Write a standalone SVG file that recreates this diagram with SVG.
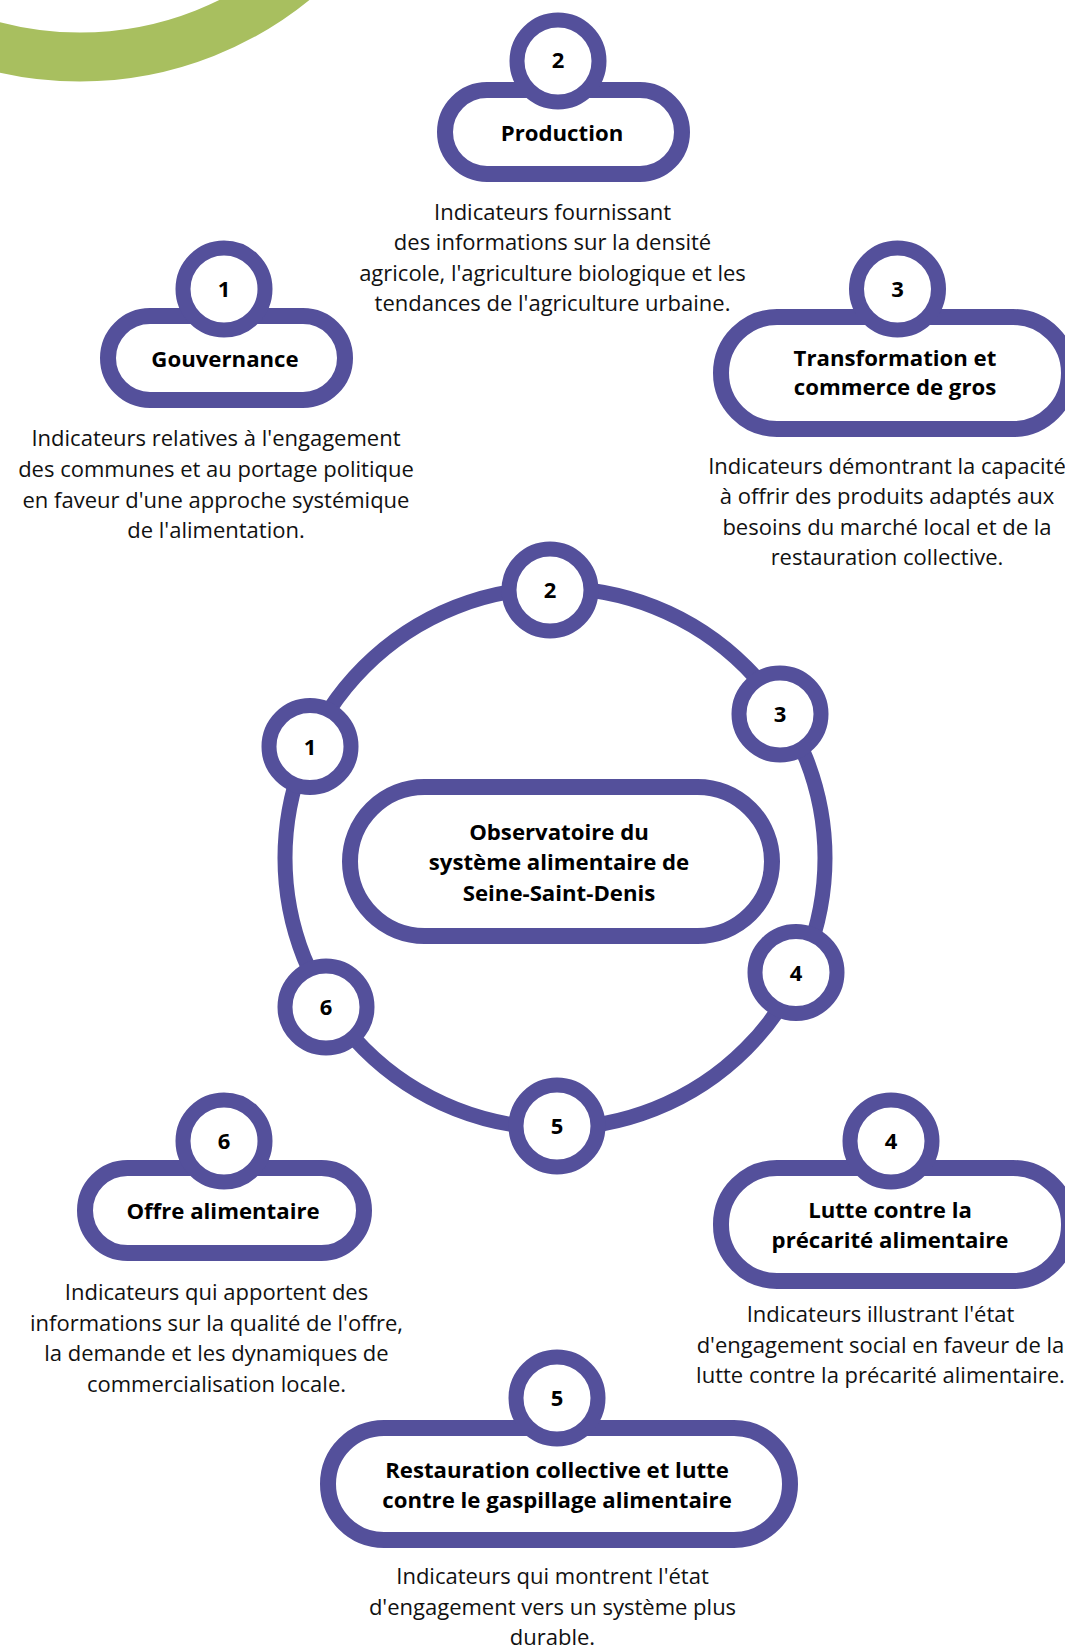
<svg xmlns="http://www.w3.org/2000/svg" width="1065" height="1648" viewBox="0 0 1065 1648">
<style>
.pill{fill:#fff;stroke:#54509B;stroke-width:16}
.dot{fill:#fff;stroke:#54509B;stroke-width:15}
.ring{fill:none;stroke:#54509B;stroke-width:15}
.num{font-family:"Open Sans",sans-serif;font-weight:700;font-size:22px;fill:#000;text-anchor:middle}
.ttl{font-family:"Open Sans",sans-serif;font-weight:700;font-size:22.2px;fill:#000;text-anchor:middle}
.dsc{font-family:"Open Sans",sans-serif;font-weight:400;font-size:22px;fill:#111;text-anchor:middle}
</style>
<rect width="1065" height="1648" fill="#fff"/>
<circle cx="80" cy="-282" r="339" fill="none" stroke="#A8BF5F" stroke-width="49"/>
<g id="connectors">
<circle class="ring" cx="555" cy="858" r="270"/>
</g>
<g id="center">
<rect class="pill" x="350" y="787" width="422" height="149" rx="74.5"/>
<text class="ttl" x="559" y="840">Observatoire du</text>
<text class="ttl" x="559" y="870">système alimentaire de</text>
<text class="ttl" x="559" y="901">Seine-Saint-Denis</text>
</g>
<g id="ring-1"><circle class="dot" cx="310" cy="746.5" r="41"/><text class="num" x="310" y="754.5">1</text></g>
<g id="ring-2"><circle class="dot" cx="550" cy="590" r="41"/><text class="num" x="550" y="598">2</text></g>
<g id="ring-3"><circle class="dot" cx="780" cy="714" r="41"/><text class="num" x="780" y="722">3</text></g>
<g id="ring-4"><circle class="dot" cx="796" cy="972.5" r="41"/><text class="num" x="796" y="980.5">4</text></g>
<g id="ring-5"><circle class="dot" cx="557" cy="1126" r="41"/><text class="num" x="557" y="1134">5</text></g>
<g id="ring-6"><circle class="dot" cx="326" cy="1007" r="41"/><text class="num" x="326" y="1015">6</text></g>

<g id="node-1">
<rect class="pill" x="108" y="316" width="237" height="84" rx="42"/>
<circle class="dot" cx="224" cy="289" r="41"/>
<text class="num" x="224" y="297">1</text>
<text class="ttl" x="225" y="367">Gouvernance</text>
<text class="dsc" x="216" y="446">Indicateurs relatives à l'engagement</text>
<text class="dsc" x="216" y="477">des communes et au portage politique</text>
<text class="dsc" x="216" y="508">en faveur d'une approche systémique</text>
<text class="dsc" x="216" y="538">de l'alimentation.</text>
</g>
<g id="node-2">
<rect class="pill" x="445" y="90" width="237" height="84" rx="42"/>
<circle class="dot" cx="558" cy="61" r="41"/>
<text class="num" x="558" y="68">2</text>
<text class="ttl" x="562" y="141">Production</text>
<text class="dsc" x="552.5" y="220">Indicateurs fournissant</text>
<text class="dsc" x="552.5" y="250">des informations sur la densité</text>
<text class="dsc" x="552.5" y="281">agricole, l'agriculture biologique et les</text>
<text class="dsc" x="552.5" y="311">tendances de l'agriculture urbaine.</text>
</g>
<g id="node-3">
<rect class="pill" x="721" y="317" width="348" height="112" rx="56"/>
<circle class="dot" cx="897.5" cy="289" r="41"/>
<text class="num" x="897.5" y="297">3</text>
<text class="ttl" x="895" y="366">Transformation et</text>
<text class="ttl" x="895" y="395">commerce de gros</text>
<text class="dsc" x="887" y="474">Indicateurs démontrant la capacité</text>
<text class="dsc" x="887" y="504">à offrir des produits adaptés aux</text>
<text class="dsc" x="887" y="535">besoins du marché local et de la</text>
<text class="dsc" x="887" y="565">restauration collective.</text>
</g>
<g id="node-4">
<rect class="pill" x="721" y="1168" width="348" height="113" rx="56"/>
<circle class="dot" cx="891" cy="1141" r="41"/>
<text class="num" x="891" y="1149">4</text>
<text class="ttl" x="890" y="1218">Lutte contre la</text>
<text class="ttl" x="890" y="1248">précarité alimentaire</text>
<text class="dsc" x="880.5" y="1322">Indicateurs illustrant l'état</text>
<text class="dsc" x="880.5" y="1353">d'engagement social en faveur de la</text>
<text class="dsc" x="880.5" y="1383">lutte contre la précarité alimentaire.</text>
</g>
<g id="node-5">
<rect class="pill" x="328" y="1428" width="462" height="112" rx="56"/>
<circle class="dot" cx="557" cy="1398" r="41"/>
<text class="num" x="557" y="1406">5</text>
<text class="ttl" x="557" y="1478">Restauration collective et lutte</text>
<text class="ttl" x="557" y="1508">contre le gaspillage alimentaire</text>
<text class="dsc" x="552.5" y="1584">Indicateurs qui montrent l'état</text>
<text class="dsc" x="552.5" y="1615">d'engagement vers un système plus</text>
<text class="dsc" x="552.5" y="1645">durable.</text>
</g>
<g id="node-6">
<rect class="pill" x="85" y="1168" width="279" height="85" rx="42.5"/>
<circle class="dot" cx="224" cy="1141" r="41"/>
<text class="num" x="224" y="1149">6</text>
<text class="ttl" x="223" y="1219">Offre alimentaire</text>
<text class="dsc" x="216.5" y="1300">Indicateurs qui apportent des</text>
<text class="dsc" x="216.5" y="1331">informations sur la qualité de l'offre,</text>
<text class="dsc" x="216.5" y="1361">la demande et les dynamiques de</text>
<text class="dsc" x="216.5" y="1392">commercialisation locale.</text>
</g>
</svg>
